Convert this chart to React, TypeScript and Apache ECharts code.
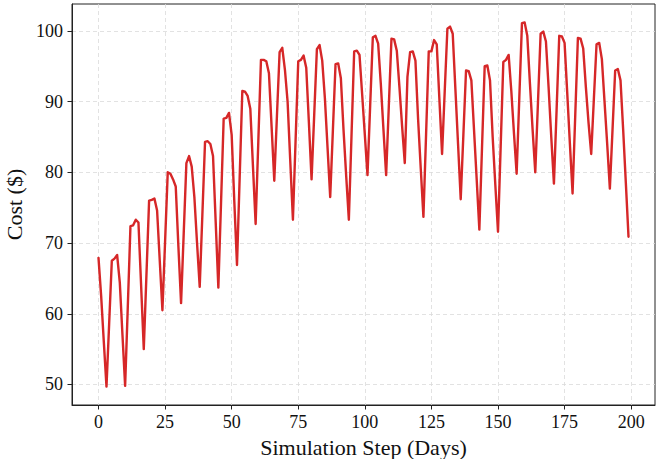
import React, { useEffect, useRef } from "react";
import * as echarts from "echarts";

const steps: number[] = [
  0, 1, 2, 3, 4, 5, 6, 7, 8, 9, 10, 11, 12, 13, 14, 15, 16, 17, 18, 19,
  20, 21, 22, 23, 24, 25, 26, 27, 28, 29, 30, 31, 32, 33, 34, 35, 36, 37, 38, 39,
  40, 41, 42, 43, 44, 45, 46, 47, 48, 49, 50, 51, 52, 53, 54, 55, 56, 57, 58, 59,
  60, 61, 62, 63, 64, 65, 66, 67, 68, 69, 70, 71, 72, 73, 74, 75, 76, 77, 78, 79,
  80, 81, 82, 83, 84, 85, 86, 87, 88, 89, 90, 91, 92, 93, 94, 95, 96, 97, 98, 99,
  100, 101, 102, 103, 104, 105, 106, 107, 108, 109, 110, 111, 112, 113, 114, 115, 116, 117, 118, 119,
  120, 121, 122, 123, 124, 125, 126, 127, 128, 129, 130, 131, 132, 133, 134, 135, 136, 137, 138, 139,
  140, 141, 142, 143, 144, 145, 146, 147, 148, 149, 150, 151, 152, 153, 154, 155, 156, 157, 158, 159,
  160, 161, 162, 163, 164, 165, 166, 167, 168, 169, 170, 171, 172, 173, 174, 175, 176, 177, 178, 179,
  180, 181, 182, 183, 184, 185, 186, 187, 188, 189, 190, 191, 192, 193, 194, 195, 196, 197, 198, 199,
];

const cost: number[] = [
  67.9, 62.5, 56.0, 49.7, 58.6, 67.5, 67.8, 68.3, 64.4, 57.0,
  49.8, 61.0, 72.4, 72.5, 73.3, 72.9, 64.0, 55.0, 65.5, 76.0,
  76.1, 76.3, 74.6, 67.5, 60.5, 70.2, 80.0, 79.8, 79.0, 78.0,
  69.5, 61.5, 71.4, 81.3, 82.3, 80.8, 76.5, 70.0, 63.8, 74.0,
  84.3, 84.4, 84.0, 82.3, 73.0, 63.7, 75.6, 87.6, 87.7, 88.4,
  85.3, 75.8, 66.9, 79.2, 91.5, 91.4, 90.8, 89.0, 80.8, 72.7,
  84.3, 95.9, 95.9, 95.7, 94.0, 86.4, 78.8, 88.0, 97.0, 97.6,
  94.5, 90.0, 81.6, 73.3, 84.5, 95.7, 95.9, 96.5, 94.8, 87.0,
  79.0, 88.2, 97.4, 98.0, 95.8, 90.5, 83.5, 76.5, 85.9, 95.3,
  95.4, 93.3, 86.0, 79.5, 73.3, 85.2, 97.1, 97.2, 96.6, 91.0,
  85.3, 79.6, 89.4, 99.1, 99.3, 98.2, 92.5, 86.0, 79.6, 89.3,
  98.9, 98.8, 97.2, 92.0, 86.5, 81.3, 93.5, 97.0, 97.1, 95.8,
  87.5, 80.5, 73.7, 85.4, 97.1, 97.1, 98.7, 98.1, 90.3, 82.6,
  91.5, 100.3, 100.6, 99.6, 91.8, 84.0, 76.2, 85.3, 94.4, 94.3,
  93.0, 86.0, 79.0, 71.9, 83.5, 95.0, 95.1, 93.0, 85.0, 78.2,
  71.6, 83.6, 95.6, 95.9, 96.6, 91.5, 85.5, 79.8, 90.5, 101.1,
  101.2, 99.3, 92.5, 86.0, 80.0, 89.8, 99.6, 99.9, 98.5, 92.0,
  85.0, 78.4, 88.8, 99.3, 99.2, 98.3, 91.2, 84.0, 77.0, 88.0,
  99.0, 98.9, 97.5, 92.0, 87.0, 82.6, 90.4, 98.1, 98.3, 96.0,
  90.0, 84.0, 77.7, 86.0, 94.4, 94.6, 93.0, 86.0, 78.5, 70.9,
];

const xTicks: number[] = [0, 25, 50, 75, 100, 125, 150, 175, 200];
const yTicks: number[] = [50, 60, 70, 80, 90, 100];

const FONT = "Liberation Serif";

export default function App() {
  const ref = useRef<HTMLDivElement | null>(null);

  useEffect(() => {
    document.body.style.margin = "0";
    if (!ref.current) return;
    const chart = echarts.init(ref.current, undefined, { renderer: "svg" });
    const data = steps.map((s, i) => [s, cost[i]]);
    const gridLine = { show: true, lineStyle: { color: "#dadada", width: 0.8, type: [4, 3] as any } };
    chart.setOption({
      animation: false,
      backgroundColor: "#ffffff",
      grid: {
        left: 72,
        right: 11,
        top: 4,
        bottom: 54,
        show: true,
        borderColor: "#222",
        borderWidth: 1,
        backgroundColor: "transparent",
        containLabel: false,
        outerBoundsMode: "none",
      },
      xAxis: {
        type: "value",
        min: -9.95,
        max: 208.95,
        name: "Simulation Step (Days)",
        nameLocation: "middle",
        nameGap: 31,
        nameTextStyle: { fontFamily: FONT, fontSize: 22, color: "#111" },
        axisLine: { show: true, onZero: false, lineStyle: { color: "#222", width: 1 } },
        axisTick: { show: true, customValues: xTicks, length: 4.5, lineStyle: { color: "#222", width: 1 } },
        axisLabel: { customValues: xTicks, fontFamily: FONT, fontSize: 18, color: "#111", margin: 8 },
        splitLine: gridLine,
      },
      yAxis: {
        type: "value",
        min: 47.1,
        max: 103.8,
        name: "Cost ($)",
        nameLocation: "middle",
        nameGap: 43,
        nameTextStyle: { fontFamily: FONT, fontSize: 22, color: "#111" },
        axisLine: { show: true, onZero: false, lineStyle: { color: "#222", width: 1 } },
        axisTick: { show: true, customValues: yTicks, length: 4.5, lineStyle: { color: "#222", width: 1 } },
        axisLabel: { customValues: yTicks, fontFamily: FONT, fontSize: 18, color: "#111", margin: 9 },
        splitLine: gridLine,
      },
      series: [
        {
          type: "line",
          data,
          symbol: "none",
          showSymbol: false,
          lineStyle: { color: "#d62728", width: 2.4, join: "round", cap: "round" },
          z: 5,
        },
      ],
    });
    return () => chart.dispose();
  }, []);

  return (
    <div
      ref={ref}
      style={{ position: "absolute", left: 0, top: 0, width: 666, height: 459 }}
    />
  );
}
